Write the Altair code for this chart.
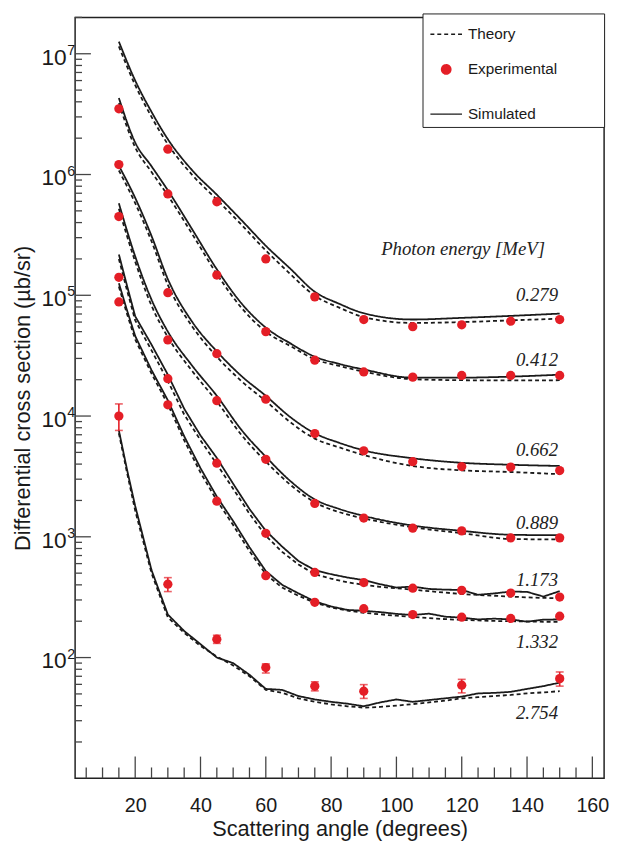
import altair as alt
import pandas as pd

# ---------------- data ----------------
ENERGIES = ["0.279", "0.412", "0.662", "0.889", "1.173", "1.332", "2.754"]

# smooth curves (coarse angle grid)
ANG_C = [15, 20, 25, 30, 37.5, 45, 52.5, 60, 67.5, 75, 82.5, 90, 105, 120, 135, 150]
SIM_0279 = [1.26e7, 6.0e6, 3.3e6, 1.96e6, 1.08e6, 6.8e5, 4.2e5, 2.57e5, 1.66e5, 1.07e5, 8.5e4, 7.1e4, 6.3e4, 6.5e4, 6.75e4, 7.05e4]
THE_0279 = [1.15e7, 5.5e6, 3.0e6, 1.78e6, 9.9e5, 6.2e5, 3.85e5, 2.35e5, 1.5e5, 9.9e4, 7.9e4, 6.6e4, 5.9e4, 6.0e4, 6.2e4, 6.4e4]
SIM_0412 = [4.3e6, 1.84e6, 1.17e6, 7.4e5, 3.5e5, 1.64e5, 8.6e4, 5.4e4, 4.0e4, 3.1e4, 2.7e4, 2.43e4, 2.08e4, 2.08e4, 2.12e4, 2.2e4]
THE_0412 = [3.9e6, 1.68e6, 1.05e6, 6.7e5, 3.2e5, 1.5e5, 7.9e4, 5.0e4, 3.8e4, 2.95e4, 2.6e4, 2.33e4, 2.02e4, 1.98e4, 1.97e4, 1.98e4]
SIM_0662 = [1.18e6, 6.4e5, 3.1e5, 1.36e5, 6.0e4, 3.43e4, 2.15e4, 1.47e4, 9.8e3, 7.2e3, 6.0e3, 5.2e3, 4.47e3, 4.1e3, 3.95e3, 3.86e3]
THE_0662 = [1.08e6, 5.8e5, 2.8e5, 1.22e5, 5.5e4, 3.1e4, 1.95e4, 1.33e4, 8.9e3, 6.5e3, 5.5e3, 4.75e3, 3.86e3, 3.55e3, 3.44e3, 3.3e3]
SIM_0889 = [5.77e5, 2.1e5, 9.2e4, 5.0e4, 2.6e4, 1.47e4, 7.7e3, 4.6e3, 2.9e3, 2.04e3, 1.7e3, 1.49e3, 1.24e3, 1.12e3, 1.04e3, 1.03e3]
THE_0889 = [5.2e5, 1.9e5, 8.2e4, 4.5e4, 2.35e4, 1.32e4, 7.0e3, 4.2e3, 2.7e3, 1.93e3, 1.6e3, 1.42e3, 1.2e3, 1.07e3, 9.6e2, 9.5e2]

# noisier curves (fine angle grid)
ANG_F = [15, 17.5, 20, 25, 30, 35, 40, 45, 50, 55, 60, 65, 70, 75, 80, 85, 90, 95, 100,
         105, 110, 115, 120, 125, 130, 135, 140, 145, 150]
SIM_1173 = [2.18e5, 1.2e5, 6.7e4, 3.9e4, 2.2e4, 1.15e4, 6.9e3, 4.5e3, 2.75e3, 1.7e3, 1.12e3, 8.3e2, 6.3e2, 5.3e2, 4.9e2,
            4.6e2, 4.38e2, 4.05e2, 3.8e2, 3.87e2, 3.7e2, 3.65e2, 3.63e2, 3.31e2, 3.4e2, 3.52e2, 3.5e2, 3.2e2, 3.55e2]
THE_1173 = [2.0e5, 1.1e5, 6.2e4, 3.5e4, 1.95e4, 1.03e4, 6.3e3, 4.0e3, 2.5e3, 1.55e3, 1.02e3, 7.5e2, 5.9e2, 4.9e2, 4.5e2,
            4.2e2, 4.0e2, 3.85e2, 3.75e2, 3.65e2, 3.55e2, 3.45e2, 3.36e2, 3.3e2, 3.25e2, 3.2e2, 3.15e2, 3.12e2, 3.1e2]
SIM_1332 = [1.26e5, 7.5e4, 4.6e4, 2.4e4, 1.35e4, 6.8e3, 3.7e3, 2.15e3, 1.35e3, 8.2e2, 5.2e2, 4.0e2, 3.4e2, 2.92e2, 2.65e2,
            2.48e2, 2.44e2, 2.38e2, 2.3e2, 2.25e2, 2.31e2, 2.18e2, 2.14e2, 2.07e2, 2.1e2, 2.07e2, 1.98e2, 2.06e2, 2.07e2]
THE_1332 = [1.18e5, 7.0e4, 4.3e4, 2.25e4, 1.25e4, 6.3e3, 3.4e3, 2.0e3, 1.25e3, 7.6e2, 4.9e2, 3.8e2, 3.25e2, 2.85e2, 2.6e2,
            2.45e2, 2.35e2, 2.28e2, 2.22e2, 2.17e2, 2.12e2, 2.08e2, 2.05e2, 2.03e2, 2.01e2, 2.0e2, 1.99e2, 1.98e2, 1.98e2]
SIM_2754 = [7.6e3, 3.6e3, 1.8e3, 5.3e2, 2.27e2, 1.66e2, 1.29e2, 1.0e2, 9.0e1, 7.2e1, 5.5e1, 5.4e1, 4.8e1, 4.5e1, 4.3e1,
            4.15e1, 3.95e1, 4.25e1, 4.5e1, 4.3e1, 4.45e1, 4.6e1, 4.75e1, 5.05e1, 5.1e1, 5.2e1, 5.5e1, 5.8e1, 6.2e1]
THE_2754 = [7.2e3, 3.4e3, 1.65e3, 5.0e2, 2.15e2, 1.6e2, 1.25e2, 1.02e2, 8.6e1, 7.0e1, 5.4e1, 5.1e1, 4.6e1, 4.3e1, 4.1e1,
            3.95e1, 3.85e1, 3.9e1, 4.0e1, 4.12e1, 4.25e1, 4.4e1, 4.6e1, 4.7e1, 4.8e1, 4.9e1, 5.05e1, 5.15e1, 5.27e1]

# experimental points
EXP_ANG = [15, 30, 45, 60, 75, 90, 105, 120, 135, 150]
EXP_0279 = [None, 1.62e6, 5.95e5, 2.0e5, 9.7e4, 6.3e4, 5.5e4, 5.7e4, 6.1e4, 6.3e4]
EXP_0412 = [3.5e6, 6.9e5, 1.47e5, 5.0e4, 2.9e4, 2.32e4, 2.1e4, 2.17e4, 2.17e4, 2.17e4]
EXP_0662 = [1.21e6, 1.05e5, 3.28e4, 1.38e4, 7.16e3, 5.15e3, 4.19e3, 3.82e3, 3.78e3, 3.54e3]
EXP_0889 = [4.49e5, 4.27e4, 1.34e4, 4.38e3, 1.89e3, 1.43e3, 1.18e3, 1.12e3, 9.8e2, 9.8e2]
EXP_1173 = [1.41e5, 2.04e4, 4.07e3, 1.07e3, 5.07e2, 4.18e2, 3.75e2, 3.6e2, 3.42e2, 3.17e2]
EXP_1332 = [8.8e4, 1.24e4, 1.97e3, 4.76e2, 2.87e2, 2.54e2, 2.27e2, 2.16e2, 2.11e2, 2.2e2]
EXP_2754 = [1.0e4, 4.05e2, 1.42e2, 8.26e1, 5.8e1, 5.27e1, None, 5.9e1, None, 6.69e1]
ERR_LO_2754 = [7.6e3, 3.52e2, 1.31e2, 7.45e1, 5.3e1, 4.59e1, None, 5.1e1, None, 5.8e1]
ERR_HI_2754 = [1.26e4, 4.59e2, 1.53e2, 8.87e1, 6.3e1, 5.97e1, None, 6.6e1, None, 7.6e1]

# annotations (data coordinates)
LABEL_TEXT = ENERGIES + ["Photon energy [MeV]"]
LABEL_ANGLE = [149.5] * 7 + [145.5]
LABEL_AT = [1.0e5, 2.93e4, 5.2e3, 1.3e3, 4.38e2, 1.35e2, 3.46e1, 2.43e5]

# axis ticks
X_LABELS = [20, 40, 60, 80, 100, 120, 140, 160]
X_MINOR = [a for a in range(5, 165, 5) if a % 20 != 0]
Y_MAJOR = [1e2, 1e3, 1e4, 1e5, 1e6, 1e7]
Y_EXP = ["2", "3", "4", "5", "6", "7"]
Y_MINOR = [m * 10 ** k for k in range(1, 8) for m in range(2, 10) if m * 10 ** k <= 2e7]

KINDS = ["Theory", "Experimental", "Simulated"]
RED = "#e41e26"
INK = "#1a1a1a"

# ---------------- tables ----------------
def line_table(angles, groups):
    rows = []
    for e, sim, the in groups:
        for a, s, t in zip(angles, sim, the):
            rows.append({"energy": e, "kind": "Theory", "angle": a, "value": t})
            rows.append({"energy": e, "kind": "Simulated", "angle": a, "value": s})
    return pd.DataFrame(rows)

smooth_df = line_table(ANG_C, [("0.279", SIM_0279, THE_0279), ("0.412", SIM_0412, THE_0412),
                               ("0.662", SIM_0662, THE_0662), ("0.889", SIM_0889, THE_0889)])
noisy_df = line_table(ANG_F, [("1.173", SIM_1173, THE_1173), ("1.332", SIM_1332, THE_1332),
                              ("2.754", SIM_2754, THE_2754)])

exp_rows = []
for e, vals in zip(ENERGIES, [EXP_0279, EXP_0412, EXP_0662, EXP_0889, EXP_1173, EXP_1332, EXP_2754]):
    for a, v in zip(EXP_ANG, vals):
        if v is not None:
            exp_rows.append({"energy": e, "kind": "Experimental", "angle": a, "value": v})
exp_df = pd.DataFrame(exp_rows)

err_df = pd.DataFrame([{"angle": a, "value": lo, "hi": hi}
                       for a, lo, hi in zip(EXP_ANG, ERR_LO_2754, ERR_HI_2754) if lo is not None])
cap_df = pd.DataFrame([{"angle": a, "value": v}
                       for a, lo, hi in zip(EXP_ANG, ERR_LO_2754, ERR_HI_2754) if lo is not None
                       for v in (lo, hi)])
lab_df = pd.DataFrame({"angle": LABEL_ANGLE, "value": LABEL_AT, "text": LABEL_TEXT})
ylab_df = pd.DataFrame({"value": Y_MAJOR, "base": ["10"] * len(Y_MAJOR), "exp": Y_EXP})
xmaj_df = pd.DataFrame({"angle": X_LABELS})
xmin_df = pd.DataFrame({"angle": X_MINOR})
ymaj_df = pd.DataFrame({"value": Y_MAJOR})
ymin_df = pd.DataFrame({"value": Y_MINOR})

# ---------------- scales / axes ----------------
W, H = 536, 771
xscale = alt.Scale(domain=[1.6, 163.6], nice=False, zero=False)
yscale = alt.Scale(type="log", domain=[10, 2e7], nice=False)

xaxis = alt.Axis(values=X_LABELS, format="d", ticks=False, tickSize=0, domain=False, grid=False,
                 labelFont="Liberation Sans", labelFontSize=20, labelColor=INK, labelPadding=17.5,
                 title="Scattering angle (degrees)", titleFont="Liberation Sans", titleFontSize=22,
                 titleFontWeight="normal", titleColor=INK, titleX=W / 2, titleY=57.6,
                 titleBaseline="alphabetic", titleAlign="center")
yaxis = alt.Axis(labels=False, ticks=False, tickSize=0, domain=False, grid=False,
                 title="Differential cross section (µb/sr)", titleFont="Liberation Sans",
                 titleFontSize=22, titleFontWeight="normal", titleColor=INK, titleAngle=270,
                 titleX=-46.7, titleY=H / 2, titleBaseline="alphabetic", titleAlign="center")

X = lambda f="angle": alt.X(f"{f}:Q", scale=xscale, axis=xaxis)
Y = lambda f="value": alt.Y(f"{f}:Q", scale=yscale, axis=yaxis)

# trailing no-break spaces widen the legend box; the zero-width space stops them being trimmed
pad = "\u00a0" * 10 + "\u200b"
leg = alt.Legend(title=None, labelExpr=f"datum.label + '{pad}'")
color = alt.Color("kind:N", scale=alt.Scale(domain=KINDS, range=[INK, RED, INK]), legend=leg)
dash = alt.StrokeDash("kind:N", scale=alt.Scale(domain=KINDS, range=[[4, 3], [1, 0], [1, 0]]), legend=leg)
shape = alt.Shape("kind:N", scale=alt.Scale(domain=KINDS, range=["stroke", "circle", "stroke"]), legend=leg)
size = alt.Size("kind:N", scale=alt.Scale(type="ordinal", domain=KINDS, range=[1024, 88, 1024]), legend=leg)

# ---------------- layers ----------------
smooth = alt.Chart(smooth_df).mark_line(strokeWidth=1.8, interpolate="monotone").encode(
    x=X(), y=Y(), color=color, strokeDash=dash, detail="energy:N")
noisy = alt.Chart(noisy_df).mark_line(strokeWidth=1.8, interpolate="linear").encode(
    x=X(), y=Y(), color=color, strokeDash=dash, detail="energy:N")
errbar = alt.Chart(err_df).mark_rule(color=RED, strokeWidth=1.6).encode(x=X(), y=Y(), y2="hi:Q")
caps = alt.Chart(cap_df).mark_tick(color=RED, orient="horizontal", size=8, thickness=1.6).encode(x=X(), y=Y())
points = alt.Chart(exp_df).mark_point(filled=True, opacity=1).encode(
    x=X(), y=Y(), color=color, shape=shape, size=size)

labels = alt.Chart(lab_df).mark_text(align="right", baseline="middle", font="Liberation Serif",
                                     fontStyle="italic", fontSize=19, color="#222").encode(
    x=X(), y=Y(), text="text:N")

ylab_base = alt.Chart(ylab_df).mark_text(align="right", baseline="alphabetic", dy=11,
                                         font="Liberation Sans", fontSize=23, color=INK).encode(
    x=alt.value(-8.5), y=Y(), text="base:N")
ylab_exp = alt.Chart(ylab_df).mark_text(align="left", baseline="alphabetic", dy=1,
                                        font="Liberation Sans", fontSize=14.5, color=INK).encode(
    x=alt.value(-8), y=Y(), text="exp:N")

tick_style = dict(color="#444", strokeWidth=1.3)
xt_major = alt.Chart(xmaj_df).mark_rule(**tick_style).encode(x=X(), y=alt.value(H), y2=alt.value(H - 22))
xt_minor = alt.Chart(xmin_df).mark_rule(**tick_style).encode(x=X(), y=alt.value(H), y2=alt.value(H - 11))
yt_major = alt.Chart(ymaj_df).mark_rule(**tick_style).encode(y=Y(), x=alt.value(0), x2=alt.value(16))
yt_minor = alt.Chart(ymin_df).mark_rule(**tick_style).encode(y=Y(), x=alt.value(0), x2=alt.value(7))

chart = alt.layer(
    xt_major, xt_minor, yt_major, yt_minor,
    smooth, noisy, errbar, caps, points, labels, ylab_base, ylab_exp,
).properties(
    width=W, height=H,
    autosize=alt.AutoSizeParams(type="none"),
    padding={"left": 68, "top": 4, "right": 8, "bottom": 60},
    background="white",
).configure_view(
    stroke="#222", strokeWidth=1.5
).configure_legend(
    orient="none", legendX=352, legendY=-4, padding=4, strokeColor="#222",
    fillColor="white", labelFont="Liberation Sans", labelFontSize=15.5, labelColor=INK,
    symbolOffset=3, labelOffset=5, rowPadding=19, symbolStrokeWidth=1.5,
)

chart.save("out.html", embed_options={"renderer": "svg", "actions": False})
